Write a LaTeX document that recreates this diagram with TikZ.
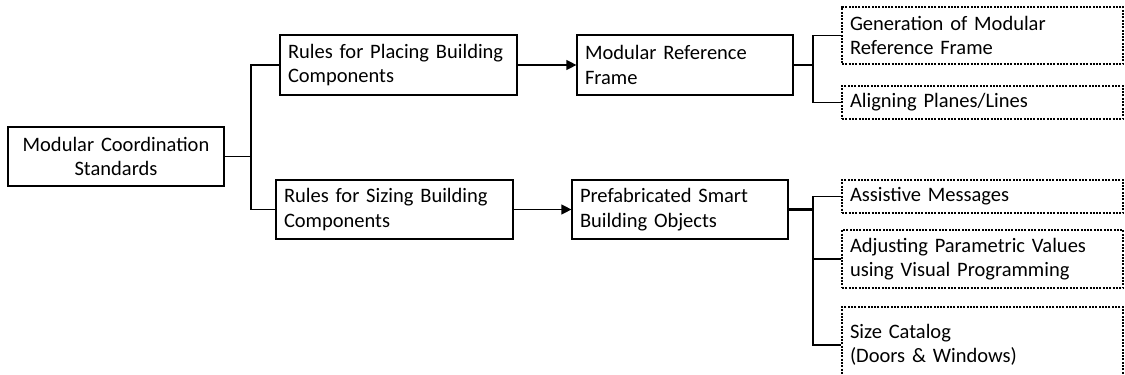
\documentclass[tikz,border=0pt]{standalone}
\usepackage{fontspec}
\setmainfont{Carlito}
\usetikzlibrary{arrows.meta}
\begin{document}
\begin{tikzpicture}[x=1pt,y=-1pt,
  box/.style={draw, line width=1.2pt, rectangle, inner xsep=8pt, inner ysep=0pt,
    font=\fontsize{20.5}{24.5}\selectfont, align=left},
  dbox/.style={box, dash pattern=on 2pt off 1.3pt},
  conn/.style={line width=1.2pt},
  thickconn/.style={line width=2.4pt},
  arr/.style={line width=1.2pt, -{Triangle[length=10pt,width=10pt]}}
]
\clip (0,0) rectangle (1125,375);
\fill[white] (0,0) rectangle (1125,375);

\node[box, align=center, text width=200pt, minimum height=59pt] (root) at (116,156.5) {Modular Coordination\\Standards};
\node[box, text width=221pt, minimum height=60pt] (place) at (398.5,65) {Rules for Placing Building\\Components};
\node[box, text width=221pt, minimum height=59pt] (size) at (394.5,209.5) {Rules for Sizing Building\\Components};
\node[box, text width=200pt, minimum height=60pt] (mrf) at (685,65) {Modular Reference\\Frame};
\node[box, text width=200pt, minimum height=59pt] (psbo) at (680,209.5) {Prefabricated Smart\\Building Objects};

\node[dbox, text width=265pt, minimum height=57pt] (gen) at (982.5,35.5) {Generation of Modular\\Reference Frame};
\node[dbox, text width=265pt, minimum height=33pt] (align) at (982.5,102.5) {Aligning Planes/Lines};
\node[dbox, text width=265pt, minimum height=33pt] (assist) at (982.5,196.5) {Assistive Messages};
\node[dbox, text width=265pt, minimum height=76pt] (adjust) at (982.5,259) [minimum height=58pt] {Adjusting Parametric Values\\using Visual Programming};
\node[dbox, text width=265pt, minimum height=76pt] (sizecat) at (982.5,345) {Size Catalog\\(Doors \& Windows)};

\coordinate (j1) at (251,0);
\coordinate (j2) at (813,0);

\draw[conn] (root.east) -- (root.east -| j1);
\draw[conn] (place.west) -| (j1 |- size.west) -- (size.west);
\draw[arr] (place.east) -- (mrf.west);
\draw[arr] (size.east) -- (psbo.west);

\draw[thickconn] (mrf.east) -- (mrf.east -| j2);
\draw[conn] (gen.west) -| (j2 |- align.west) -- (align.west);

\draw[thickconn] (psbo.east) -- (psbo.east -| j2);
\draw[conn] (assist.west) -| (j2 |- sizecat.west) -- (sizecat.west);
\draw[conn] (adjust.west) -- (adjust.west -| j2);
\end{tikzpicture}
\end{document}
